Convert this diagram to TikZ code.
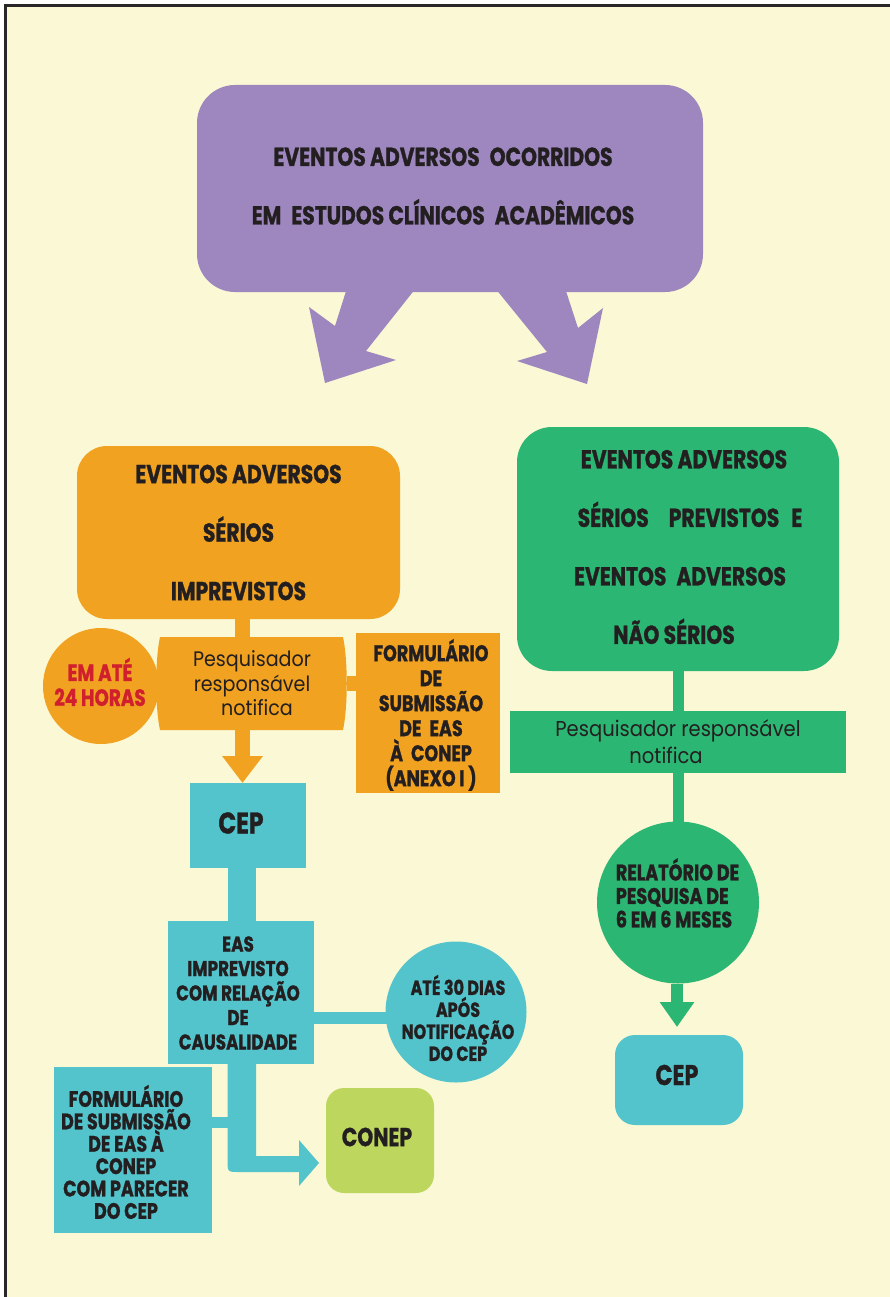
\documentclass[tikz,border=0pt]{standalone}
\usepackage{fontspec}
\setmainfont{Poppins}
\newfontfamily\hv[FakeStretch=0.78,FakeBold=1]{Poppins}
\newfontfamily\bk[FakeStretch=0.91]{Poppins}
\newcommand\hvf[2]{\hv\bfseries\fontsize{#1}{#2}\selectfont}
\newcommand\bkf[2]{\bk\fontsize{#1}{#2}\selectfont}
\newcommand\gap[1]{\hspace{#1pt}}
\usetikzlibrary{arrows.meta,calc,backgrounds}
\definecolor{bgc}{RGB}{251,248,213}
\definecolor{framec}{RGB}{40,38,38}
\definecolor{purp}{RGB}{157,135,190}
\definecolor{oran}{RGB}{240,162,32}
\definecolor{gree}{RGB}{44,182,115}
\definecolor{teal2}{RGB}{84,196,204}
\definecolor{lime2}{RGB}{189,215,94}
\definecolor{redt}{RGB}{208,32,46}
\definecolor{ink}{RGB}{35,31,32}
\tikzset{
  shp/.style={inner sep=0pt, outer sep=0pt, text=ink, align=center},
  bigT/.style={font={\hvf{26}{58.5}}},
  olin/.style={draw=oran, line width=15pt},
  tlin/.style={draw=teal2},
  glin/.style={draw=gree},
}
\begin{document}
\begin{tikzpicture}[x=1pt,y=-1pt]
\useasboundingbox (0,0) rectangle (890,1297);
% ---------- nodes ----------
\node[shp, fill=purp, rounded corners=38pt, minimum width=506pt, minimum height=207pt] (top) at (450,188.5) {};
\node[shp, bigT] (topT) at (443,186) {EVENTOS ADVERSOS\gap{10}OCORRIDOS\\EM\gap{10}ESTUDOS CLÍNICOS\gap{10}ACADÊMICOS};

\node[shp, bigT, fill=oran, rounded corners=30pt, minimum width=323pt, minimum height=173pt] (ev1) at (238.5,532.5) {EVENTOS ADVERSOS\\SÉRIOS\\IMPREVISTOS};

\fill[oran] (160,637) -- (343,637) .. controls (348,660) and (348,707) .. (343,730) -- (160,730) .. controls (155,707) and (155,660) .. (160,637) -- cycle;
\node[shp, font={\bkf{21}{24.5}}, minimum width=190pt, minimum height=93pt] (notif) at (252,683.5) {Pesquisador\\responsável\\\hspace*{10pt}notifica};

\node[shp, circle, fill=oran, minimum size=116pt] (h24) at (101,686) {};
\node[shp, text=redt, font={\hvf{23.5}{25}}] (h24T) at (100,682) {EM ATÉ\\24 HORAS};

\node[shp, fill=oran, minimum width=144pt, minimum height=160pt] (form1) at (428,713) {};
\node[shp, font={\hvf{22.5}{25}}] (form1T) at (431,715) {FORMULÁRIO\\DE\\SUBMISSÃO\\DE\gap{8}EAS\\À\gap{8}CONEP\\(ANEXO I )};

\node[shp, fill=teal2, minimum width=116pt, minimum height=85pt] (cep1) at (248,825.5) {};
\node[shp, font={\hvf{30}{30}}] (cep1T) at (241,823) {CEP};

\node[shp, fill=teal2, minimum width=146pt, minimum height=143pt] (eas) at (241,992.5) {};
\node[shp, font={\hvf{21.5}{24.5}}] (easT) at (238,993) {EAS\\IMPREVISTO\\COM RELAÇÃO\\DE\\CAUSALIDADE};

\node[shp, circle, fill=teal2, minimum size=141pt] (tcirc) at (456,1012) {};
\node[shp, font={\hvf{20.5}{22}}] (tcircT) at (458,1018) {ATÉ 30 DIAS\\APÓS\\NOTIFICAÇÃO\\DO CEP};

\node[shp, fill=teal2, minimum width=158pt, minimum height=166pt] (form2) at (133,1150) {};
\node[shp, font={\hvf{22.4}{22.4}}] (form2T) at (126,1152) {FORMULÁRIO\\DE SUBMISSÃO\\DE EAS À\\CONEP\\COM PARECER\\DO CEP};

\node[shp, fill=lime2, rounded corners=18pt, minimum width=108pt, minimum height=105pt] (conep) at (380,1140.5) {};
\node[shp, font={\hvf{26}{26}}] (conepT) at (377,1137) {CONEP};

\node[shp, fill=gree, rounded corners=35pt, minimum width=322pt, minimum height=244pt] (ev2) at (678,549) {};
\node[shp, bigT] (ev2T) at (680,547) {\hspace*{8pt}EVENTOS ADVERSOS\\\hspace*{20pt}SÉRIOS\gap{20}PREVISTOS\gap{12}E\\EVENTOS\gap{10}ADVERSOS\\NÃO SÉRIOS\hspace*{12pt}};

\node[shp, fill=gree, minimum width=336pt, minimum height=62pt, font={\bkf{21.5}{27}}] (pesq) at (678,742) {Pesquisador responsável\\notifica\hspace*{24pt}};

\node[shp, circle, fill=gree, minimum size=162pt] (gcirc) at (678,902.5) {};
\node[shp, align=left, font={\hvf{22.6}{23.5}}] (gcircT) at (677.5,893) {RELATÓRIO DE\\PESQUISA DE\\6 EM 6 MESES};

\node[shp, fill=teal2, rounded corners=20pt, minimum width=128pt, minimum height=90pt] (cep3) at (679,1080) {};
\node[shp, font={\hvf{28.5}{28.5}}] (cep3T) at (677,1075) {CEP};

% ---------- coordinates ----------
\coordinate (ox) at (242.5,0);
\coordinate (tx) at (242,0);
\coordinate (gx) at (678.5,0);
\coordinate (gx2) at (677,0);
\coordinate (b1) at ([yshift=-25.5pt]eas.east);
\coordinate (b2) at ([yshift=27.5pt]form2.east);
\coordinate (b3) at ([yshift=8pt]cep3.north);

% ---------- background layer ----------
\begin{pgfonlayer}{background}
\fill[white] (0,0) rectangle (890,1297);
\fill[bgc] (5.5,5.5) rectangle (890,1297);
\draw[framec, line width=3.5pt] (5.5,1297) -- (5.5,5.5) -- (890,5.5);
% purple arrows
\fill[purp] (347,288) -- (335,326) -- (309,307) -- (325,383) -- (396,360) -- (366,351) -- (416,288) -- cycle;
\fill[purp] (495,288) -- (547,352) -- (517,361) -- (587,384) -- (603,308) -- (578,328) -- (565,288) -- cycle;
% orange
\draw[olin] (ev1.south -| ox) -- (notif.north -| ox);
\draw[olin] (notif.east) -- (notif.east -| form1.west);
\draw[olin, -{Triangle[width=39pt,length=27pt]}] (notif.south -| ox) -- (cep1.north -| ox);
% teal
\draw[tlin, line width=28.5pt] (cep1.south -| tx) -- (eas.north -| tx);
\draw[tlin, line width=12pt] (b1) -- (b1 -| tcirc.center);
\draw[tlin, line width=11pt] (b2) -- (b2 -| tx);
\fill[teal2] (227.5,1060) -- (227.5,1160) .. controls (227.5,1172) .. (239.5,1172) -- (300,1172) -- (300,1156) -- (256,1156) -- (256,1060) -- cycle;
\fill[teal2] (299,1140) -- (319,1163) -- (299,1186) -- cycle;
% green
\draw[glin, line width=11pt] (ev2.south -| gx) -- (pesq.north -| gx);
\draw[glin, line width=11pt] (pesq.south -| gx) -- (gcirc.north -| gx);
\draw[glin, line width=12pt, -{Triangle[width=33pt,length=25pt]}] (gcirc.south -| gx2) -- (b3 -| gx2);
\end{pgfonlayer}
\end{tikzpicture}
\end{document}
